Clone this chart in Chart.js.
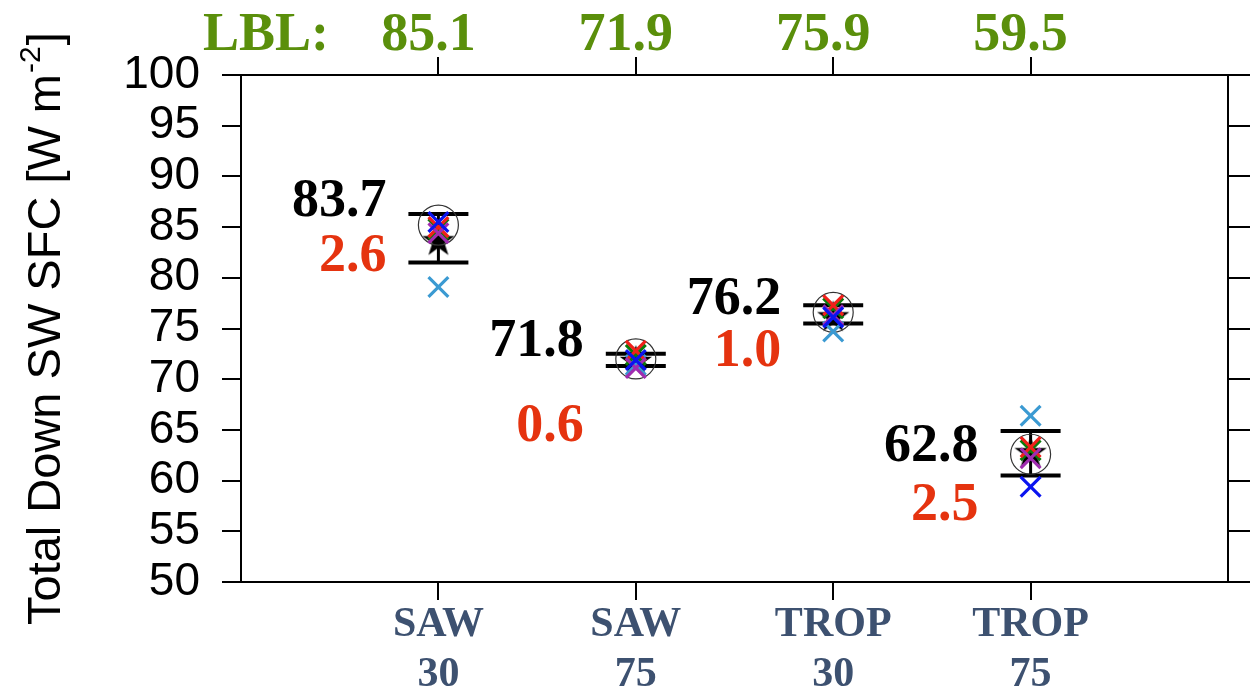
<!DOCTYPE html>
<html>
<head>
<meta charset="utf-8">
<script src="https://cdn.jsdelivr.net/npm/chart.js@4.4.0/dist/chart.umd.min.js"></script>
<style>
  html, body { margin: 0; padding: 0; background: #fff; }
  #wrap { width: 1250px; height: 691px; }
</style>
</head>
<body>
<div id="wrap"><canvas id="chart" width="1250" height="691"></canvas></div>
<script>
// categories (two-line tick labels) and their x positions
const categories = [['SAW', '30'], ['SAW', '75'], ['TROP', '30'], ['TROP', '75']];
const xPos = [1, 2, 3, 4];

// LBL reference values shown on top
const lblValues = [85.1, 71.9, 75.9, 59.5];

// ensemble mean and spread (printed labels)
const meanVals = [83.7, 71.8, 76.2, 62.8];
const spreadVals = [2.6, 0.6, 1.0, 2.5];

// error bar caps
const capHi = [86.3, 72.5, 77.3, 64.9];
const capLo = [81.5, 71.3, 75.5, 60.5];

// open circle marker
const circleVals = [85.2, 72.0, 76.6, 62.6];

// individual models (x markers)
const blueVals = [85.5, 71.9, 76.1, 59.4];
const purpleVals = [84.4, 71.1, 76.3, 62.2];
const redVals = [85.0, 72.8, 77.3, 63.3];
const greenVals = [84.8, 72.4, 77.0, 63.0];
const lightBlueVals = [79.1, 71.4, 74.7, 66.4];

// where the printed mean / spread numbers sit (y, data units)
const meanLabelY = [87.5, 73.7, 77.8, 63.3];
const spreadLabelY = [82.0, 65.3, 72.7, 57.5];

const yTicks = [50, 55, 60, 65, 70, 75, 80, 85, 90, 95, 100];

function pts(vals) {
  return vals.map((v, i) => ({ x: xPos[i], y: v }));
}

// filled five point star for the mean
const star = document.createElement('canvas');
star.width = 34; star.height = 34;
(function () {
  const c = star.getContext('2d');
  c.fillStyle = '#000';
  c.beginPath();
  for (let k = 0; k < 10; k++) {
    const r = k % 2 === 0 ? 17 : 6.5;
    const a = -Math.PI / 2 + k * Math.PI / 5;
    const px = 17 + r * Math.cos(a), py = 18 + r * Math.sin(a);
    if (k === 0) c.moveTo(px, py); else c.lineTo(px, py);
  }
  c.closePath();
  c.fill();
})();

function xMarker(label, vals, color) {
  return {
    label: label,
    data: pts(vals),
    pointStyle: 'crossRot',
    pointRadius: 14,
    borderColor: color,
    backgroundColor: color,
    pointBorderWidth: 3.2,
    showLine: false
  };
}

const errorBars = {
  id: 'errorBars',
  beforeDatasetsDraw(chart) {
    const ctx = chart.ctx, xs = chart.scales.x, ys = chart.scales.y;
    ctx.save();
    ctx.strokeStyle = '#000';
    xPos.forEach((xv, i) => {
      const px = xs.getPixelForValue(xv);
      const hi = ys.getPixelForValue(capHi[i]);
      const lo = ys.getPixelForValue(capLo[i]);
      ctx.lineWidth = 3;
      ctx.beginPath();
      ctx.moveTo(px, hi); ctx.lineTo(px, lo);
      ctx.stroke();
      ctx.lineWidth = 4;
      ctx.beginPath();
      ctx.moveTo(px - 30, hi); ctx.lineTo(px + 30, hi);
      ctx.moveTo(px - 30, lo); ctx.lineTo(px + 30, lo);
      ctx.stroke();
    });
    ctx.restore();
  }
};

const texts = {
  id: 'texts',
  afterDraw(chart) {
    const ctx = chart.ctx, xs = chart.scales.x, ys = chart.scales.y;
    ctx.save();
    // LBL row
    ctx.fillStyle = '#5a8f0b';
    ctx.font = 'bold 54px "Liberation Serif"';
    ctx.textAlign = 'center';
    ctx.textBaseline = 'middle';
    ctx.fillText('LBL:', 266, 36);
    lblValues.forEach((v, i) => {
      ctx.fillText(v.toFixed(1), xs.getPixelForValue(xPos[i]) - 10, 36);
    });
    // mean and spread labels
    ctx.textAlign = 'right';
    ctx.font = 'bold 54px "Liberation Serif"';
    meanVals.forEach((v, i) => {
      const px = xs.getPixelForValue(xPos[i]) - 52;
      ctx.fillStyle = '#000';
      ctx.fillText(v.toFixed(1), px, ys.getPixelForValue(meanLabelY[i]));
      ctx.fillStyle = '#e5330f';
      ctx.fillText(spreadVals[i].toFixed(1), px, ys.getPixelForValue(spreadLabelY[i]));
    });
    // y axis title with superscript
    ctx.translate(60, 625);
    ctx.rotate(-Math.PI / 2);
    ctx.textAlign = 'left';
    ctx.textBaseline = 'alphabetic';
    ctx.fillStyle = '#000';
    ctx.font = '47px "Liberation Sans"';
    const main = 'Total Down SW SFC [W m';
    ctx.fillText(main, 0, 0);
    let w = ctx.measureText(main).width;
    ctx.font = '30px "Liberation Sans"';
    ctx.fillText('-2', w + 1, -20);
    w += ctx.measureText('-2').width + 2;
    ctx.font = '47px "Liberation Sans"';
    ctx.fillText(']', w, 0);
    ctx.restore();
  }
};

const axisGrid = { drawOnChartArea: false, drawTicks: true, color: '#000', lineWidth: 2 };

new Chart(document.getElementById('chart').getContext('2d'), {
  type: 'scatter',
  data: {
    datasets: [
      xMarker('blue', blueVals, '#0a14f0'),
      xMarker('purple', purpleVals, '#a02cb0'),
      xMarker('red', redVals, '#f0201a'),
      xMarker('green', greenVals, '#0b7a0b'),
      xMarker('lightblue', lightBlueVals, '#3b9ad2'),
      {
        label: 'circle',
        data: pts(circleVals),
        pointStyle: 'circle',
        pointRadius: 20,
        backgroundColor: 'rgba(0,0,0,0)',
        borderColor: '#333',
        pointBorderWidth: 1.2
      },
      {
        label: 'mean',
        data: pts(meanVals),
        pointStyle: star,
        pointRadius: 17
      }
    ]
  },
  options: {
    responsive: false,
    animation: false,
    layout: { padding: 0 },
    plugins: { legend: { display: false }, tooltip: { enabled: false } },
    scales: {
      x: {
        type: 'linear', position: 'bottom', min: 0, max: 5,
        afterBuildTicks: s => { s.ticks = xPos.map(v => ({ value: v })); },
        afterFit: s => { s.height = 109; },
        ticks: {
          callback: v => categories[v - 1],
          color: '#3d5170',
          font: { family: 'Liberation Serif', weight: 'bold', size: 42, lineHeight: 1.2 },
          padding: 0,
          maxRotation: 0,
          autoSkip: false
        },
        grid: Object.assign({ tickLength: 18 }, axisGrid),
        border: { display: true, color: '#000', width: 2 }
      },
      x2: {
        type: 'linear', position: 'top', min: 0, max: 5,
        afterBuildTicks: s => { s.ticks = xPos.map(v => ({ value: v })); },
        afterFit: s => { s.height = 75; },
        ticks: { display: false },
        grid: Object.assign({ tickLength: 18 }, axisGrid),
        border: { display: true, color: '#000', width: 2 }
      },
      y: {
        type: 'linear', position: 'left', min: 50, max: 100,
        afterBuildTicks: s => { s.ticks = yTicks.map(v => ({ value: v })); },
        afterFit: s => { s.width = 241; },
        ticks: {
          color: '#000',
          font: { family: 'Liberation Sans', size: 46 },
          padding: 22,
          autoSkip: false
        },
        grid: Object.assign({ tickLength: 19 }, axisGrid),
        border: { display: true, color: '#000', width: 2 }
      },
      y2: {
        type: 'linear', position: 'right', min: 50, max: 100,
        afterBuildTicks: s => { s.ticks = yTicks.map(v => ({ value: v })); },
        afterFit: s => { s.width = 22; },
        ticks: { display: false },
        grid: Object.assign({ tickLength: 22 }, axisGrid),
        border: { display: true, color: '#000', width: 2 }
      }
    }
  },
  plugins: [errorBars, texts]
});
</script>
</body>
</html>
